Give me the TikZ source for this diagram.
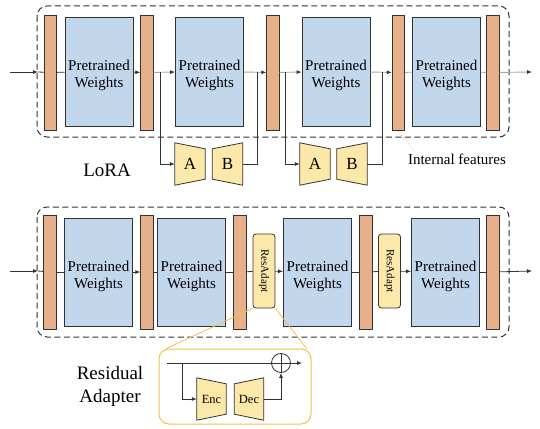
\documentclass[tikz,border=0pt]{standalone}
\usepackage{fontspec}
\setmainfont{Liberation Serif}
\usetikzlibrary{arrows.meta,backgrounds}
\definecolor{featc}{HTML}{E8B08A}
\definecolor{weightc}{HTML}{C3D7EC}
\definecolor{adaptc}{HTML}{FCE8A8}
\definecolor{insetc}{HTML}{F4BE48}
\definecolor{darkc}{HTML}{333333}
\definecolor{softc}{HTML}{A8A8A8}
\definecolor{notec}{HTML}{F0A070}
% trapezoids drawn round a named node
\newcommand{\narrowright}[1]{\draw[trap] (#1.north west) -- ([yshift=-6pt]#1.north east) -- ([yshift=6pt]#1.south east) -- (#1.south west) -- cycle;}
\newcommand{\narrowleft}[1]{\draw[trap] ([yshift=-6pt]#1.north west) -- (#1.north east) -- (#1.south east) -- ([yshift=6pt]#1.south west) -- cycle;}
\newcommand{\ptw}{\raisebox{-7.75pt}[0pt][0pt]{\begin{tabular}{@{}c@{}}Pretrained\\Weights\end{tabular}}}
\begin{document}
\begin{tikzpicture}[x=1pt,y=-1pt,
  >={Latex[length=5pt,width=4pt]},
  feat/.style={draw=darkc,fill=featc,line width=0.8pt,minimum width=12.5pt,inner sep=0pt},
  weights/.style={draw=darkc,fill=weightc,line width=0.8pt,minimum width=68pt,minimum height=109pt,inner sep=0pt,font=\fontsize{15}{17}\selectfont},
  resadapt/.style={draw=darkc,fill=adaptc,line width=0.8pt,rounded corners=3pt,minimum width=22pt,minimum height=74pt,inner sep=0pt},
  lowrank/.style={minimum width=30pt,minimum height=42pt,inner sep=0pt,font=\fontsize{17}{20}\selectfont},
  coder/.style={minimum width=29pt,minimum height=42pt,inner sep=0pt,font=\fontsize{12.5}{15}\selectfont},
  trap/.style={draw=darkc,fill=adaptc,line width=0.8pt},
  wire/.style={draw=darkc,line width=0.8pt},
  gwire/.style={draw=softc,line width=0.9pt},
  gtip/.style={-{Latex[length=5pt,width=4pt,color=darkc]}},
  dashbox/.style={draw=darkc,line width=1pt,dash pattern=on 6pt off 3.5pt,rounded corners=10pt},
  title/.style={font=\fontsize{19}{23}\selectfont,align=center}]
  \useasboundingbox (0,0) rectangle (540,428);

  % LoRA
  \draw[dashbox] (37,6) rectangle (509,137);
  \node[feat,minimum height=115pt] (f1) at (50.5,72.5) {};
  \node[weights] (w1) at (99,71.5) {\ptw};
  \node[feat,minimum height=115pt] (f2) at (147,72.5) {};
  \node[weights] (w2) at (209.5,71.5) {\ptw};
  \node[feat,minimum height=115pt] (f3) at (273,72.5) {};
  \node[weights] (w3) at (336,71.5) {\ptw};
  \node[feat,minimum height=115pt] (f4) at (398.5,72.5) {};
  \node[weights] (w4) at (446.5,71.5) {\ptw};
  \node[feat,minimum height=115pt] (f5) at (493,72.5) {};

  \node[lowrank] (a1) at (190,164) {A};
  \node[lowrank] (b1) at (227.5,164) {B};
  \node[lowrank] (a2) at (315,164) {A};
  \node[lowrank] (b2) at (352,164) {B};
  \begin{scope}[on background layer]
    \narrowright{a1} \narrowleft{b1}
    \narrowright{a2} \narrowleft{b2}
  \end{scope}

  \coordinate (in1) at (10,72);
  \coordinate (e1) at (38,72);
  \coordinate (out1) at (532,72);
  \coordinate (s1) at (160,72);
  \coordinate (m1) at (257,72);
  \coordinate (s2) at (285,72);
  \coordinate (m2) at (382,72);
  \draw[wire,->] (in1) -- (e1);
  \draw[wire] (e1) -- (f1);
  \draw[wire] (f1) -- (w1);
  \draw[wire,->] (w1) -- (f2);
  \draw[gwire,gtip] (f2) -- (w2);
  \draw[gwire,gtip] (w2) -- (f3);
  \draw[gwire,gtip] (f3) -- (w3);
  \draw[gwire,gtip] (w3) -- (f4);
  \draw[gwire] (f4) -- (w4);
  \draw[gwire] (w4) -- (f5);
  \draw[gwire,gtip] (f5) -- (out1);
  \draw[wire,->] (s1) |- (a1);
  \draw[wire] (b1) -| (m1);
  \draw[wire,->] (s2) |- (a2);
  \draw[wire] (b2) -| (m2);

  \node[title] (lora) at (107,170) {LoRA};
  \node[font=\fontsize{15}{17}\selectfont] (feats) at (457,159) {Internal features};
  \coordinate (n1) at (398,131);
  \coordinate (n2) at (415,152);
  \draw[notec,line width=0.7pt,dotted] (n1) -- (n2);

  % Residual adapter
  \draw[dashbox] (37,207) rectangle (509,337);
  \node[feat,minimum height=114pt] (g1) at (50,272) {};
  \node[weights,minimum height=108pt] (v1) at (98.5,272) {\ptw};
  \node[feat,minimum height=114pt] (g2) at (147,272) {};
  \node[weights,minimum height=108pt] (v2) at (191.5,272) {\ptw};
  \node[feat,minimum height=114pt] (g3) at (240,272) {};
  \node[resadapt] (ra1) at (264,271) {};
  \node[font=\fontsize{11}{13}\selectfont,rotate=-90] (ra1t) at (ra1) {ResAdapt};
  \node[weights,minimum height=108pt] (v3) at (317.5,272) {\ptw};
  \node[feat,minimum height=114pt] (g4) at (366,272) {};
  \node[resadapt] (ra2) at (389.5,271) {};
  \node[font=\fontsize{11}{13}\selectfont,rotate=-90] (ra2t) at (ra2) {ResAdapt};
  \node[weights,minimum height=108pt] (v4) at (445.5,272) {\ptw};
  \node[feat,minimum height=114pt] (g5) at (493,272) {};

  \coordinate (in2) at (10,271);
  \coordinate (e2) at (38,271);
  \coordinate (out2) at (532,271);
  \draw[wire,->] (in2) -- (e2);
  \draw[wire] (e2) -- (g1);
  \draw[wire] (g1) -- (v1);
  \draw[wire,->] (v1) -- (g2);
  \draw[wire] (g2) -- (v2);
  \draw[wire] (v2) -- (g3);
  \draw[wire] (g3) -- (ra1);
  \draw[wire,->] (ra1) -- (v3);
  \draw[wire] (v3) -- (g4);
  \draw[wire] (g4) -- (ra2);
  \draw[wire,->] (ra2) -- (v4);
  \draw[wire] (v4) -- (g5);
  \draw[wire,->] (g5) -- (out2);

  \node[title] (resid) at (110,386) {Residual\\Adapter};

  % zoomed adapter
  \node[draw=insetc,line width=1pt,rounded corners=10pt,minimum width=152pt,minimum height=75pt] (inset) at (235,386.5) {};
  \draw[insetc,line width=0.8pt] (ra1.south west) -- ([xshift=8pt]inset.north west);
  \draw[insetc,line width=0.8pt] (ra1.south east) -- ([xshift=-5pt]inset.north east);
  \node[coder] (enc) at (211.5,399) {Enc};
  \node[coder] (dec) at (249,399) {Dec};
  \begin{scope}[on background layer]
    \narrowright{enc} \narrowleft{dec}
  \end{scope}
  \node[circle,draw=darkc,line width=0.8pt,minimum size=19pt,inner sep=0pt] (sum) at (281,363) {};
  \draw[wire] (sum.north) -- (sum.south) (sum.west) -- (sum.east);
  \coordinate (rin) at (167,363);
  \coordinate (rsplit) at (182,363);
  \coordinate (rout) at (302,363);
  \draw[wire] (rin) -- (sum);
  \draw[wire,->] (sum) -- (rout);
  \draw[wire,->] (rsplit) |- (enc);
  \draw[wire,->] (dec) -| (sum);
\end{tikzpicture}
\end{document}
